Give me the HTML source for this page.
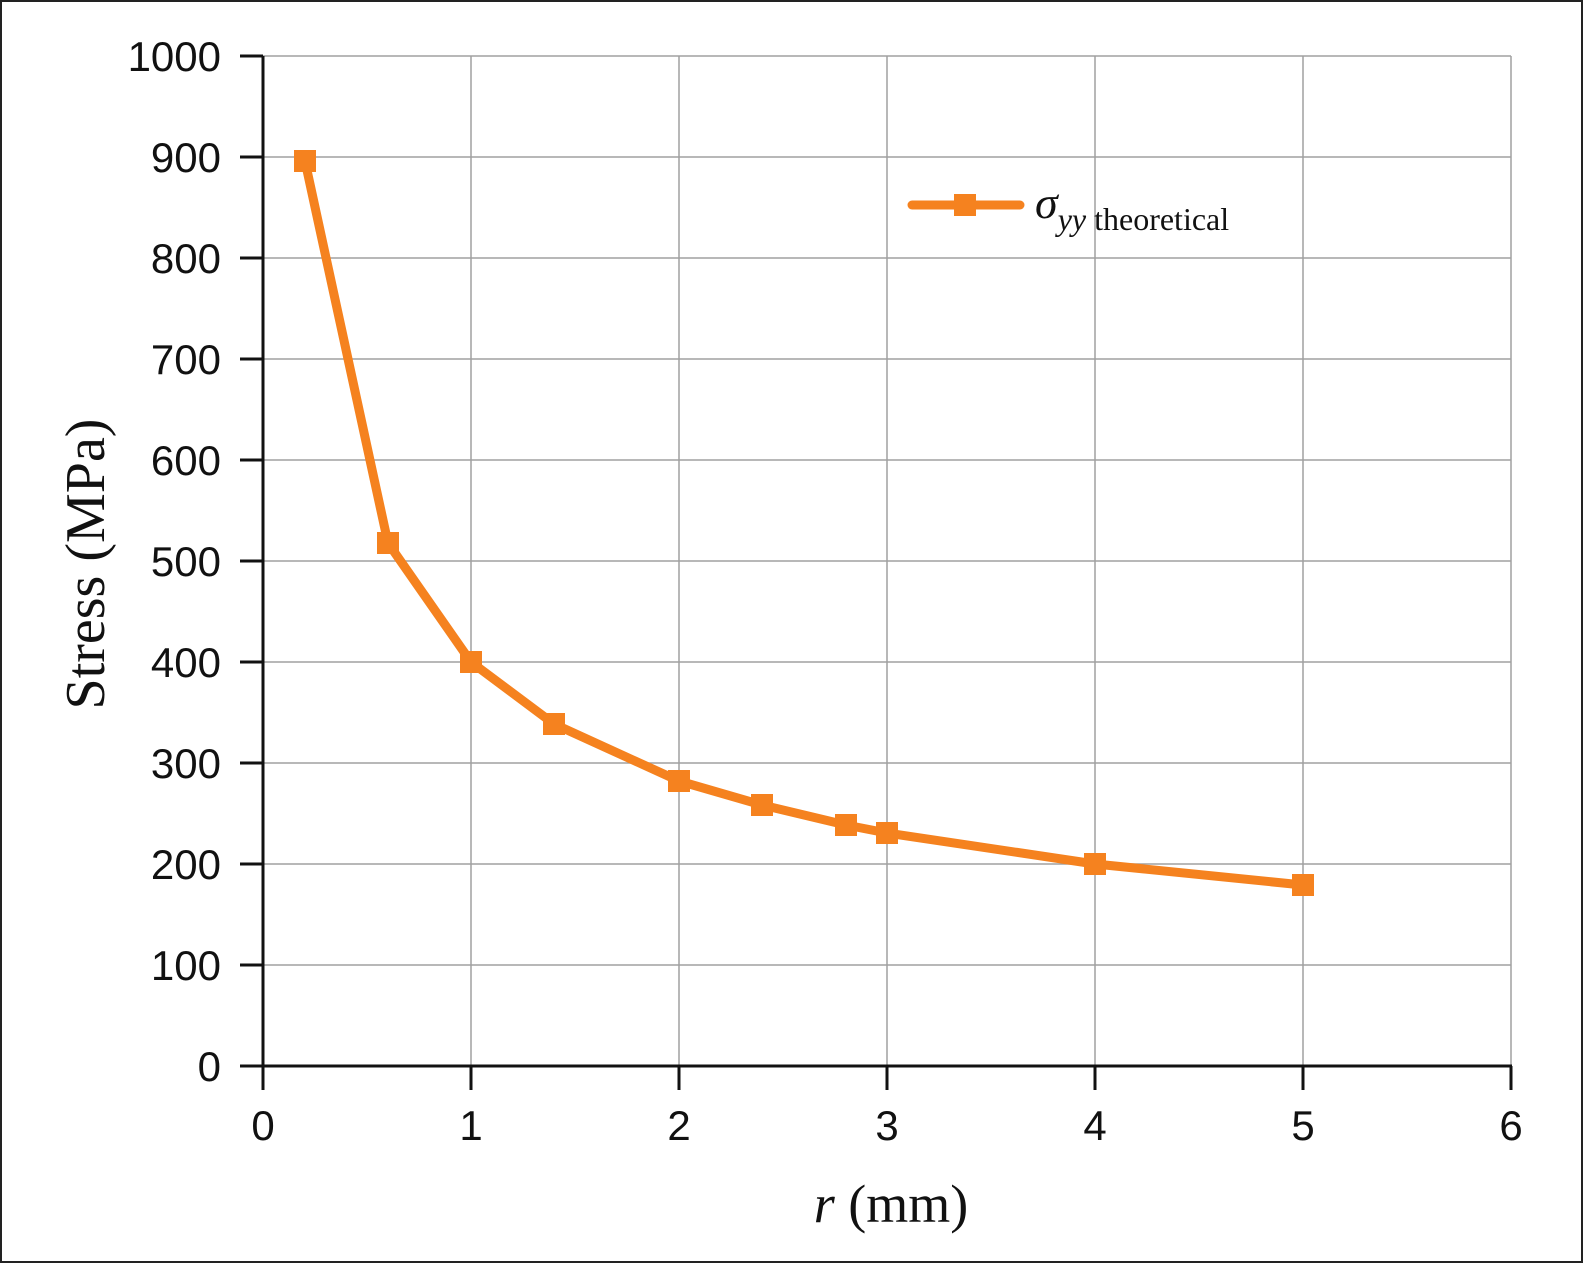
<!DOCTYPE html>
<html><head><meta charset="utf-8"><style>
html,body{margin:0;padding:0;background:#fff}
</style></head><body>
<svg width="1588" height="1264" viewBox="0 0 1588 1264" xmlns="http://www.w3.org/2000/svg">
<rect x="1" y="1" width="1581" height="1261" fill="#fff" stroke="#222" stroke-width="2"/>
<g stroke="#a0a0a0" stroke-width="1.5">
<line x1="263" y1="56" x2="1511" y2="56"/>
<line x1="263" y1="157" x2="1511" y2="157"/>
<line x1="263" y1="258" x2="1511" y2="258"/>
<line x1="263" y1="359" x2="1511" y2="359"/>
<line x1="263" y1="460" x2="1511" y2="460"/>
<line x1="263" y1="561" x2="1511" y2="561"/>
<line x1="263" y1="662" x2="1511" y2="662"/>
<line x1="263" y1="763" x2="1511" y2="763"/>
<line x1="263" y1="864" x2="1511" y2="864"/>
<line x1="263" y1="965" x2="1511" y2="965"/>
<line x1="471" y1="56" x2="471" y2="1066"/>
<line x1="679" y1="56" x2="679" y2="1066"/>
<line x1="887" y1="56" x2="887" y2="1066"/>
<line x1="1095" y1="56" x2="1095" y2="1066"/>
<line x1="1303" y1="56" x2="1303" y2="1066"/>
<line x1="1511" y1="56" x2="1511" y2="1066"/>
</g>
<g stroke="#111" stroke-width="3">
<line x1="263" y1="56" x2="263" y2="1066"/>
<line x1="240" y1="1066" x2="1512" y2="1066"/>
<line x1="240" y1="56" x2="263" y2="56"/><line x1="240" y1="157" x2="263" y2="157"/>
<line x1="240" y1="258" x2="263" y2="258"/><line x1="240" y1="359" x2="263" y2="359"/>
<line x1="240" y1="460" x2="263" y2="460"/><line x1="240" y1="561" x2="263" y2="561"/>
<line x1="240" y1="662" x2="263" y2="662"/><line x1="240" y1="763" x2="263" y2="763"/>
<line x1="240" y1="864" x2="263" y2="864"/><line x1="240" y1="965" x2="263" y2="965"/>
<line x1="263" y1="1066" x2="263" y2="1090"/><line x1="471" y1="1066" x2="471" y2="1090"/>
<line x1="679" y1="1066" x2="679" y2="1090"/><line x1="887" y1="1066" x2="887" y2="1090"/>
<line x1="1095" y1="1066" x2="1095" y2="1090"/><line x1="1303" y1="1066" x2="1303" y2="1090"/>
<line x1="1511" y1="1066" x2="1511" y2="1090"/>
</g>
<g font-family="Liberation Sans, Arial, sans-serif" font-size="42" fill="#111" text-anchor="end">
<text x="221" y="71">1000</text><text x="221" y="172">900</text><text x="221" y="273">800</text>
<text x="221" y="374">700</text><text x="221" y="475">600</text><text x="221" y="576">500</text>
<text x="221" y="677">400</text><text x="221" y="778">300</text><text x="221" y="879">200</text>
<text x="221" y="980">100</text><text x="221" y="1081">0</text>
</g>
<g font-family="Liberation Sans, Arial, sans-serif" font-size="42" fill="#111" text-anchor="middle">
<text x="263" y="1140">0</text><text x="471" y="1140">1</text><text x="679" y="1140">2</text>
<text x="887" y="1140">3</text><text x="1095" y="1140">4</text><text x="1303" y="1140">5</text>
<text x="1511" y="1140">6</text>
</g>
<text transform="translate(104,564) rotate(-90)" font-family="Liberation Serif, serif" font-size="56" text-anchor="middle" fill="#111">Stress (MPa)</text>
<text x="891" y="1222" font-family="Liberation Serif, serif" font-size="54" text-anchor="middle" fill="#111"><tspan font-style="italic">r</tspan> (mm)</text>
<polyline fill="none" stroke="#f5821f" stroke-width="9" stroke-linejoin="round" stroke-linecap="round"
points="305,161 388,543 471,662 554,724 679,781 762,805 846,825 887,833 1095,864 1303,885"/>
<g fill="#f5821f">
<rect x="294" y="150" width="22" height="22"/><rect x="377" y="532" width="22" height="22"/>
<rect x="460" y="651" width="22" height="22"/><rect x="543" y="713" width="22" height="22"/>
<rect x="668" y="770" width="22" height="22"/><rect x="751" y="794" width="22" height="22"/>
<rect x="835" y="814" width="22" height="22"/><rect x="876" y="822" width="22" height="22"/>
<rect x="1084" y="853" width="22" height="22"/><rect x="1292" y="874" width="22" height="22"/>
</g>
<line x1="912" y1="205" x2="1020" y2="205" stroke="#f5821f" stroke-width="9" stroke-linecap="round"/>
<rect x="954" y="194" width="22" height="22" fill="#f5821f"/>
<text x="1035" y="218" font-family="Liberation Serif, serif" fill="#111"><tspan font-size="46" font-style="italic">σ</tspan><tspan font-size="32" dy="12" font-style="italic">yy</tspan><tspan font-size="32"> theoretical</tspan></text>
</svg>
</body></html>
